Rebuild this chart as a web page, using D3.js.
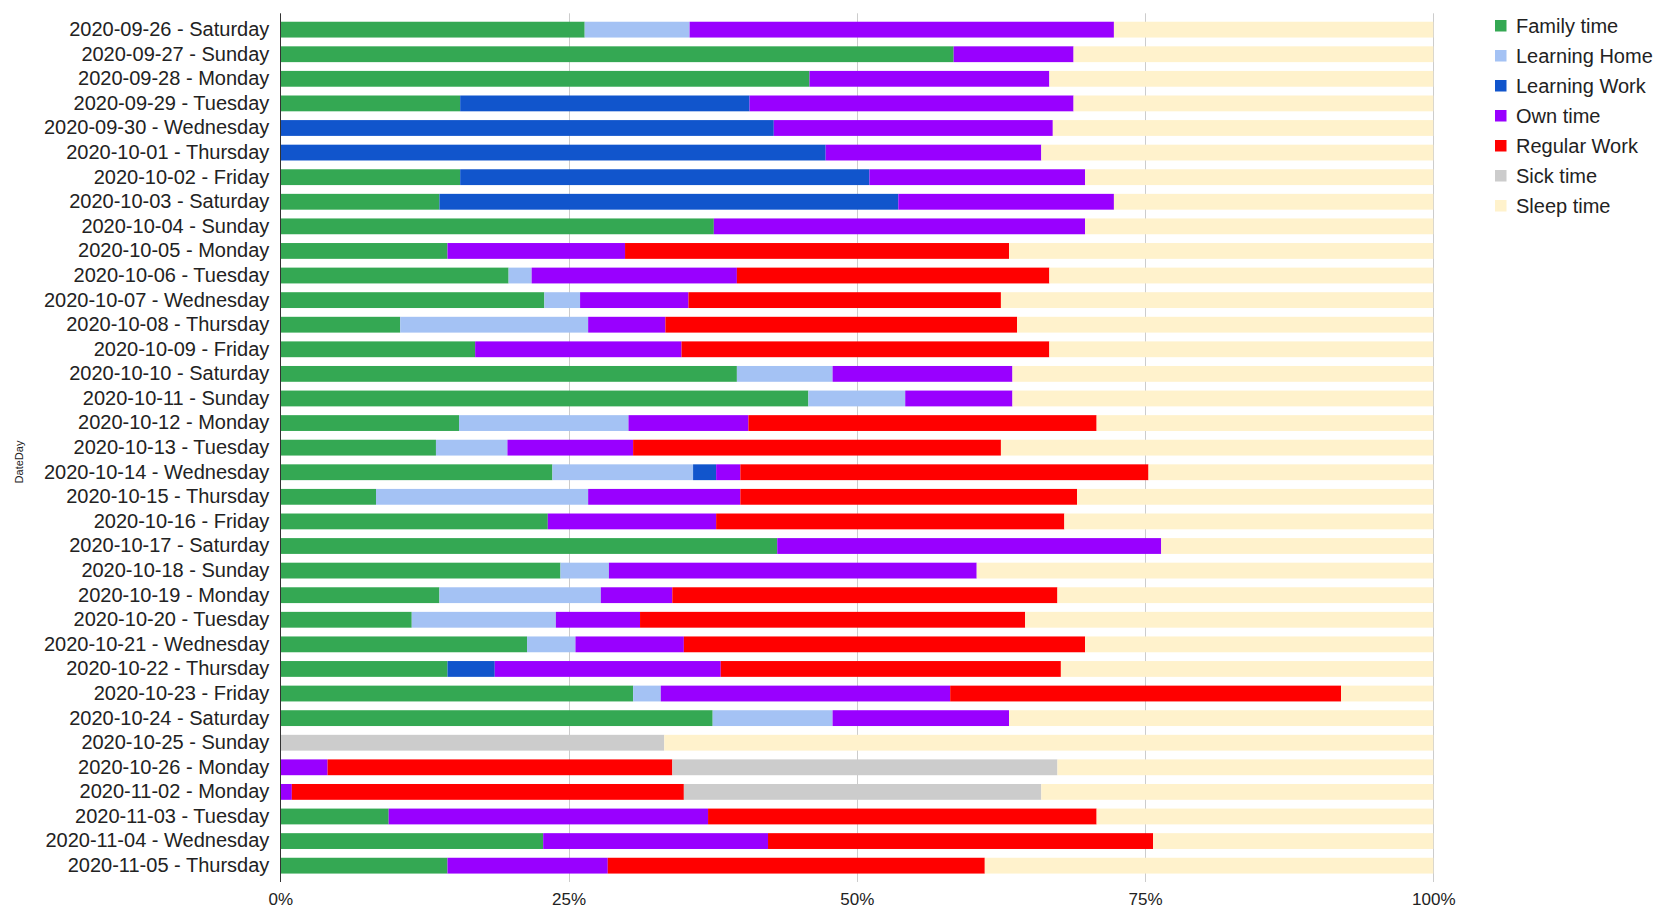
<!DOCTYPE html>
<html>
<head>
<meta charset="utf-8">
<script src="https://cdn.jsdelivr.net/npm/d3@7"></script>
<style>
  body { margin: 0; background: #fff; }
  text { font-family: "Liberation Sans", Arial, sans-serif; fill: #222; }
</style>
</head>
<body>
<div id="chart"></div>
<script>
// Rows (date - weekday)
const days = [
    "2020-09-26 - Saturday", "2020-09-27 - Sunday", "2020-09-28 - Monday", "2020-09-29 - Tuesday",
    "2020-09-30 - Wednesday", "2020-10-01 - Thursday", "2020-10-02 - Friday", "2020-10-03 - Saturday",
    "2020-10-04 - Sunday", "2020-10-05 - Monday", "2020-10-06 - Tuesday", "2020-10-07 - Wednesday",
    "2020-10-08 - Thursday", "2020-10-09 - Friday", "2020-10-10 - Saturday", "2020-10-11 - Sunday",
    "2020-10-12 - Monday", "2020-10-13 - Tuesday", "2020-10-14 - Wednesday", "2020-10-15 - Thursday",
    "2020-10-16 - Friday", "2020-10-17 - Saturday", "2020-10-18 - Sunday", "2020-10-19 - Monday",
    "2020-10-20 - Tuesday", "2020-10-21 - Wednesday", "2020-10-22 - Thursday", "2020-10-23 - Friday",
    "2020-10-24 - Saturday", "2020-10-25 - Sunday", "2020-10-26 - Monday", "2020-11-02 - Monday",
    "2020-11-03 - Tuesday", "2020-11-04 - Wednesday", "2020-11-05 - Thursday"
];

// Share of the day per activity (percent)
const familyTime = [26.4, 58.4, 45.9, 15.6, 0, 0, 15.6, 13.8, 37.6, 14.5, 19.8, 22.9, 10.4, 16.9, 39.6, 45.8, 15.5, 13.5, 23.6, 8.3, 23.2, 43.1, 24.3, 13.8, 11.4, 21.4, 14.5, 30.6, 37.5, 0, 0, 0, 9.4, 22.8, 14.5];
const learningHome = [9.1, 0, 0, 0, 0, 0, 0, 0, 0, 0, 2.0, 3.1, 16.3, 0, 8.3, 8.4, 14.7, 6.2, 12.2, 18.4, 0, 0, 4.2, 14.0, 12.5, 4.2, 0, 2.4, 10.4, 0, 0, 0, 0, 0, 0];
const learningWork = [0, 0, 0, 25.1, 42.8, 47.3, 35.5, 39.8, 0, 0, 0, 0, 0, 0, 0, 0, 0, 0, 2.0, 0, 0, 0, 0, 0, 0, 0, 4.1, 0, 0, 0, 0, 0, 0, 0, 0];
const ownTime = [36.8, 10.4, 20.8, 28.1, 24.2, 18.7, 18.7, 18.7, 32.2, 15.4, 17.8, 9.4, 6.7, 17.9, 15.6, 9.3, 10.4, 10.9, 2.1, 13.2, 14.6, 33.3, 31.9, 6.2, 7.3, 9.4, 19.6, 25.1, 15.3, 0, 4.1, 1.0, 27.7, 19.5, 13.9];
const regularWork = [0, 0, 0, 0, 0, 0, 0, 0, 0, 33.3, 27.1, 27.1, 30.5, 31.9, 0, 0, 30.2, 31.9, 35.4, 29.2, 30.2, 0, 0, 33.4, 33.4, 34.8, 29.5, 33.9, 0, 0, 29.9, 34.0, 33.7, 33.4, 32.7];
const sickTime = [0, 0, 0, 0, 0, 0, 0, 0, 0, 0, 0, 0, 0, 0, 0, 0, 0, 0, 0, 0, 0, 0, 0, 0, 0, 0, 0, 0, 0, 33.3, 33.4, 31.0, 0, 0, 0];
const sleepTime = [27.7, 31.2, 33.3, 31.2, 33.0, 34.0, 30.2, 27.7, 30.2, 36.8, 33.3, 37.5, 36.1, 33.3, 36.5, 36.5, 29.2, 37.5, 24.7, 30.9, 32.0, 23.6, 39.6, 32.6, 35.4, 30.2, 32.3, 8.0, 36.8, 66.7, 32.6, 34.0, 29.2, 24.3, 38.9];

const seriesNames = ["Family time", "Learning Home", "Learning Work", "Own time", "Regular Work", "Sick time", "Sleep time"];
const seriesValues = [familyTime, learningHome, learningWork, ownTime, regularWork, sickTime, sleepTime];
const seriesColors = ["#34a853", "#a4c2f4", "#1155cc", "#9900ff", "#ff0000", "#cccccc", "#fff2cc"];
const xTicks = [0, 0.25, 0.5, 0.75, 1];

function drawChart() {
    const W = 1659, H = 918;
    const plot = { left: 280.3, right: 1433.3, top: 13.3, bottom: 882 };

    const svg = d3.select("#chart").append("svg")
        .attr("width", W)
        .attr("height", H);

    // one record per day, keyed by series name
    const rows = days.map((d, i) => {
        const r = { day: d };
        seriesNames.forEach((s, k) => { r[s] = seriesValues[k][i]; });
        return r;
    });

    const stacked = d3.stack()
        .keys(seriesNames)
        .offset(d3.stackOffsetExpand)(rows);

    const x = d3.scaleLinear()
        .domain([0, 1])
        .range([plot.left, plot.right]);

    const y = d3.scaleBand()
        .domain(days)
        .range([plot.top, plot.bottom])
        .paddingInner(0.357)
        .paddingOuter(0.343);

    // gridlines
    svg.append("g")
        .selectAll("line")
        .data(xTicks.slice(1))
        .enter()
        .append("line")
        .attr("x1", d => Math.round(x(d)) + 0.5)
        .attr("x2", d => Math.round(x(d)) + 0.5)
        .attr("y1", plot.top)
        .attr("y2", plot.bottom)
        .attr("stroke", "#cccccc")
        .attr("stroke-width", 1);

    // stacked bars
    svg.append("g")
        .selectAll("g")
        .data(stacked)
        .enter()
        .append("g")
        .attr("fill", (d, i) => seriesColors[i])
        .selectAll("rect")
        .data(d => d)
        .enter()
        .append("rect")
        .attr("x", d => x(d[0]))
        .attr("y", d => y(d.data.day))
        .attr("width", d => Math.max(0, x(d[1]) - x(d[0])))
        .attr("height", y.bandwidth());

    // baseline
    svg.append("line")
        .attr("x1", Math.round(x(0)) + 0.5)
        .attr("x2", Math.round(x(0)) + 0.5)
        .attr("y1", plot.top)
        .attr("y2", plot.bottom)
        .attr("stroke", "#333333")
        .attr("stroke-width", 1);

    // y axis labels
    const yAxis = svg.append("g")
        .attr("transform", `translate(${plot.left}, 0)`)
        .call(d3.axisLeft(y).tickSize(0).tickPadding(11));
    yAxis.select(".domain").remove();
    yAxis.selectAll("text")
        .style("font-size", "20px")
        .style("font-family", "Liberation Sans, Arial, sans-serif")
        .attr("fill", "#222");

    // x axis labels
    const xAxis = svg.append("g")
        .attr("transform", `translate(0, ${plot.bottom})`)
        .call(d3.axisBottom(x).tickValues(xTicks).tickFormat(d3.format(".0%")).tickSize(0).tickPadding(11));
    xAxis.select(".domain").remove();
    xAxis.selectAll("text")
        .style("font-size", "17px")
        .style("font-family", "Liberation Sans, Arial, sans-serif")
        .attr("fill", "#222");

    // axis title
    svg.append("text")
        .attr("transform", "translate(23, 462) rotate(-90)")
        .style("text-anchor", "middle")
        .style("font-size", "11px")
        .text("DateDay");

    // legend
    const legend = svg.append("g")
        .attr("transform", "translate(1495, 26)");

    const items = legend.selectAll("g")
        .data(seriesNames)
        .enter()
        .append("g")
        .attr("transform", (d, i) => `translate(0, ${i * 30})`);

    items.append("rect")
        .attr("x", 0)
        .attr("y", -6)
        .attr("width", 11.5)
        .attr("height", 11.5)
        .attr("fill", (d, i) => seriesColors[i]);

    items.append("text")
        .attr("x", 21)
        .attr("y", 0)
        .attr("dy", "0.35em")
        .style("font-size", "20px")
        .text(d => d);
}

drawChart();
</script>
</body>
</html>
